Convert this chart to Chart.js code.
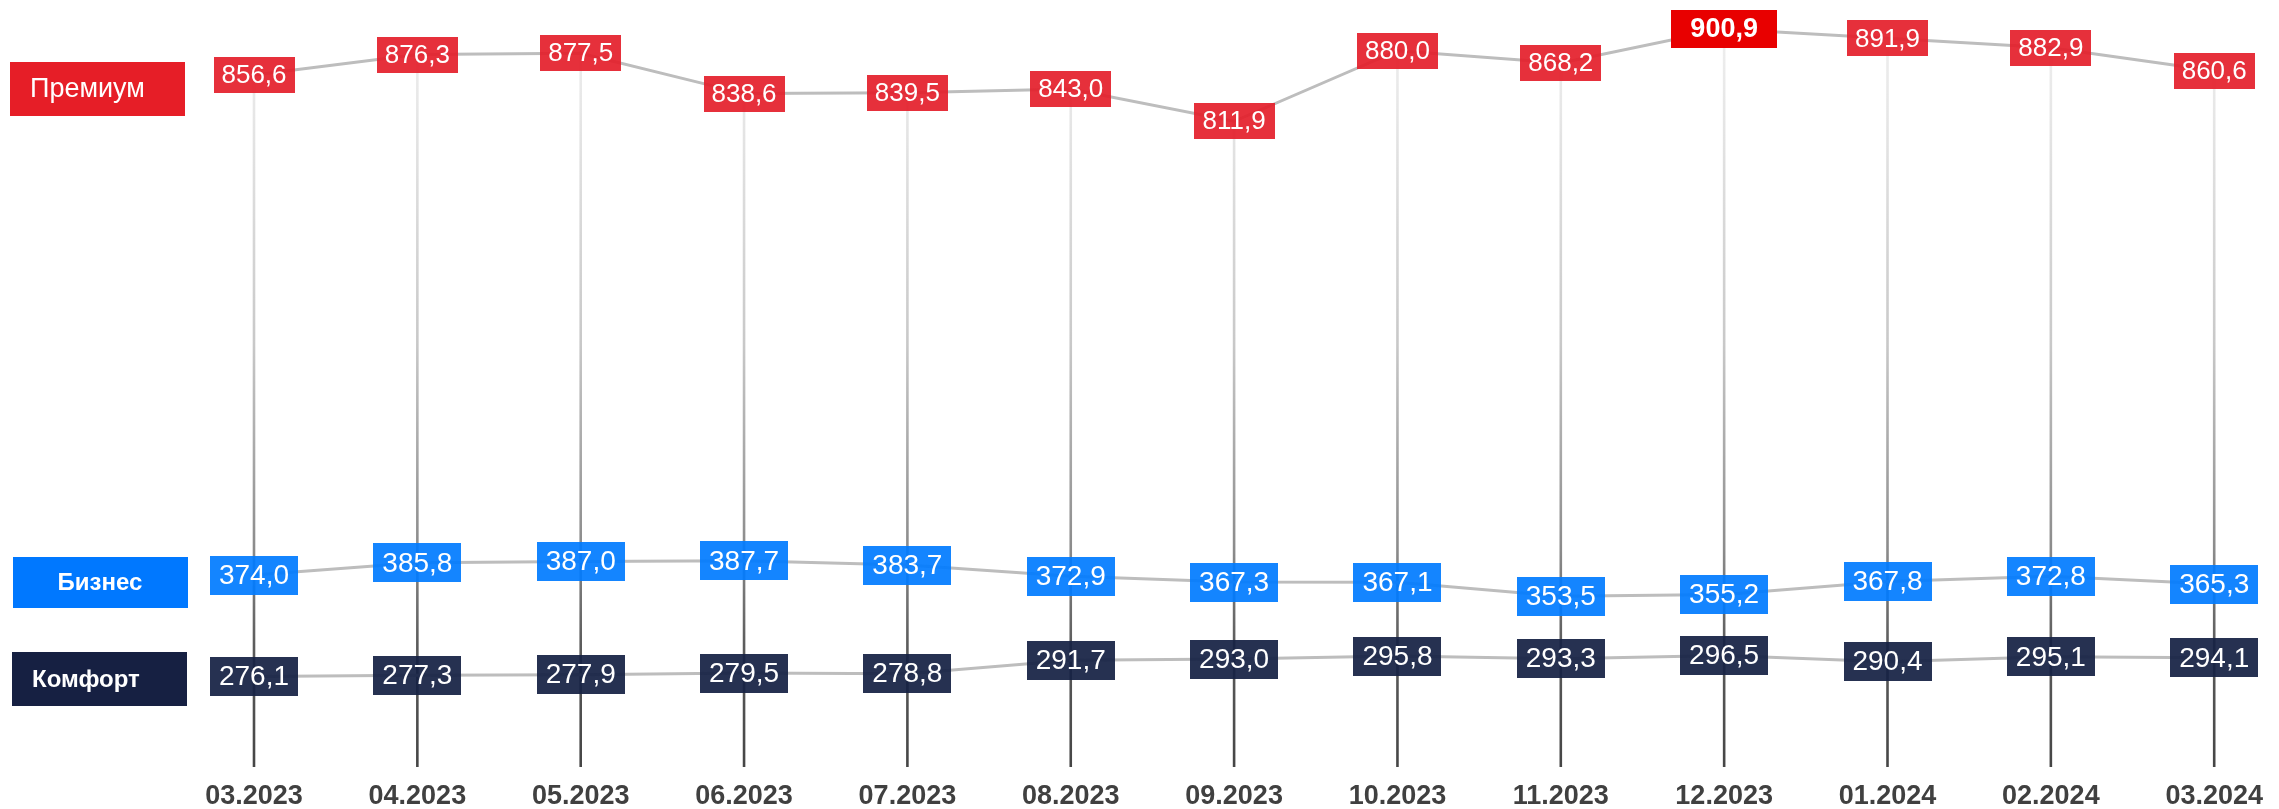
<!DOCTYPE html>
<html><head><meta charset="utf-8">
<script src="https://cdn.jsdelivr.net/npm/chart.js@4.4.0/dist/chart.umd.min.js"></script>
<style>html,body{margin:0;padding:0;background:#fff;overflow:hidden}#wrap{width:2279px;height:809px;position:relative}</style>
</head><body><div id="wrap"><canvas id="c" width="2279" height="809"></canvas></div>
<script>
const categories = ['03.2023','04.2023','05.2023','06.2023','07.2023','08.2023','09.2023','10.2023','11.2023','12.2023','01.2024','02.2024','03.2024'];
const premium  = [856.6, 876.3, 877.5, 838.6, 839.5, 843.0, 811.9, 880.0, 868.2, 900.9, 891.9, 882.9, 860.6];
const business = [374.0, 385.8, 387.0, 387.7, 383.7, 372.9, 367.3, 367.1, 353.5, 355.2, 367.8, 372.8, 365.3];
const comfort  = [276.1, 277.3, 277.9, 279.5, 278.8, 291.7, 293.0, 295.8, 293.3, 296.5, 290.4, 295.1, 294.1];
const seriesNames = ['Премиум', 'Бизнес', 'Комфорт'];

const FONT = '"Liberation Sans", Arial, sans-serif';
const fmt = v => v.toFixed(1).replace('.', ',');

const styles = [
  {fill: 'rgba(228,30,42,0.92)', w: 81, h: 36, size: 26, weight: 'normal'},
  {fill: 'rgba(0,123,255,0.92)', w: 88, h: 39, size: 28, weight: 'normal'},
  {fill: 'rgba(22,33,68,0.93)', w: 88, h: 39, size: 28, weight: 'normal'}
];
const legendBoxes = [
  {text: seriesNames[0], x: 10, y: 62, w: 175, h: 54, fill: '#E61E27', weight: 'normal', size: 27, align: 'left', tx: 30},
  {text: seriesNames[1], x: 13, y: 557, w: 175, h: 51, fill: '#0078FF', weight: 'bold', size: 24, align: 'center', tx: 100},
  {text: seriesNames[2], x: 12, y: 652, w: 175, h: 54, fill: '#162042', weight: 'bold', size: 24, align: 'left', tx: 32}
];

const dropLines = {
  id: 'dropLines',
  beforeDatasetsDraw(chart) {
    const ctx = chart.ctx, area = chart.chartArea;
    const meta = chart.getDatasetMeta(0);
    const g = ctx.createLinearGradient(0, 0, 0, area.bottom);
    g.addColorStop(0.0, '#f2f2f2');
    g.addColorStop(0.15, '#e6e6e6');
    g.addColorStop(0.45, '#c8c8c8');
    g.addColorStop(0.72, '#8a8a8a');
    g.addColorStop(0.84, '#5c5c5c');
    g.addColorStop(1.0, '#454545');
    ctx.save();
    ctx.strokeStyle = g;
    ctx.lineWidth = 2.6;
    meta.data.forEach(pt => {
      ctx.beginPath();
      ctx.moveTo(pt.x, pt.y);
      ctx.lineTo(pt.x, area.bottom);
      ctx.stroke();
    });
    ctx.restore();
  }
};

const valueLabels = {
  id: 'valueLabels',
  afterDatasetsDraw(chart) {
    const ctx = chart.ctx;
    chart.data.datasets.forEach((ds, di) => {
      const meta = chart.getDatasetMeta(di);
      const mx = Math.max(...ds.data);
      meta.data.forEach((pt, i) => {
        const v = ds.data[i];
        let s = styles[di];
        if (di === 0 && v === mx) s = {fill: 'rgb(232,0,0)', w: 106, h: 38, size: 27, weight: 'bold'};
        ctx.save();
        ctx.fillStyle = s.fill;
        ctx.fillRect(Math.round(pt.x - s.w / 2), Math.round(pt.y - s.h / 2), s.w, s.h);
        ctx.fillStyle = '#ffffff';
        ctx.font = s.weight + ' ' + s.size + 'px ' + FONT;
        ctx.textAlign = 'center';
        ctx.textBaseline = 'middle';
        ctx.fillText(fmt(v), pt.x, pt.y + 1);
        ctx.restore();
      });
    });
  }
};

const legendPlugin = {
  id: 'legendBoxes',
  afterDraw(chart) {
    const ctx = chart.ctx;
    legendBoxes.forEach(b => {
      ctx.save();
      ctx.fillStyle = b.fill;
      ctx.fillRect(b.x, b.y, b.w, b.h);
      ctx.fillStyle = '#ffffff';
      ctx.font = b.weight + ' ' + b.size + 'px ' + FONT;
      ctx.textAlign = b.align;
      ctx.textBaseline = 'middle';
      ctx.fillText(b.text, b.tx, b.y + b.h / 2 + 1);
      ctx.restore();
    });
  }
};

const lineStyle = {borderColor: '#bdbdbd', borderWidth: 3, pointRadius: 0, tension: 0, fill: false};

new Chart(document.getElementById('c'), {
  type: 'line',
  data: {
    labels: categories,
    datasets: [
      Object.assign({label: seriesNames[0], data: premium}, lineStyle),
      Object.assign({label: seriesNames[1], data: business}, lineStyle),
      Object.assign({label: seriesNames[2], data: comfort}, lineStyle)
    ]
  },
  options: {
    responsive: false,
    animation: false,
    devicePixelRatio: 1,
    layout: {padding: {left: 254, right: 51, top: 0, bottom: -17}},
    plugins: {legend: {display: false}, tooltip: {enabled: false}},
    scales: {
      x: {
        type: 'category',
        offset: false,
        grid: {display: false, drawTicks: false},
        border: {display: false},
        ticks: {
          autoSkip: false, maxRotation: 0, padding: 16,
          color: '#404040',
          font: {family: FONT, size: 27, weight: 'bold', lineHeight: 1}
        }
      },
      y: {display: false, min: 188.8, max: 928.9}
    }
  },
  plugins: [dropLines, valueLabels, legendPlugin]
});
</script>
</body></html>
